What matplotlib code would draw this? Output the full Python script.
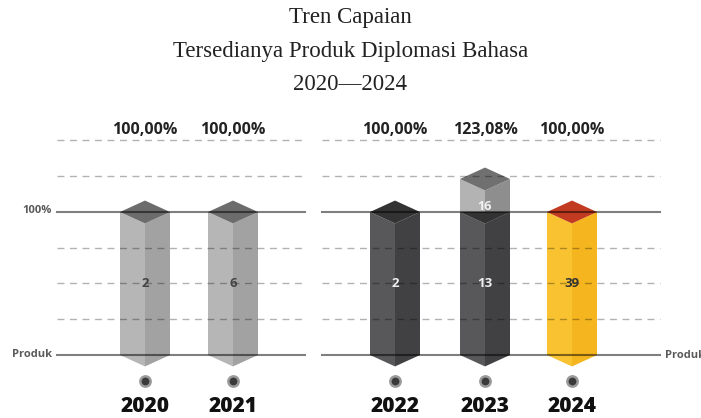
import matplotlib
matplotlib.use("Agg")
import matplotlib.pyplot as plt
from matplotlib.patches import Polygon

# data
years = ["2020", "2021", "2022", "2023", "2024"]
capaian = [100.0, 100.0, 100.0, 123.08, 100.0]      # persen capaian
target = [2, 6, 2, 13, 39]                           # jumlah produk (target)
realisasi_lebih = [None, None, None, 16, None]       # produk di atas target
pct_labels = ["100,00%", "100,00%", "100,00%", "123,08%", "100,00%"]
grid_levels = [25, 50, 75, 125, 150]

# layout / style
xpos = [145, 233, 395, 485, 572]
half_w = 25
depth = 8
face_colors = [
    ("#b6b6b6", "#a2a2a2", "#6c6c6c"),
    ("#b6b6b6", "#a2a2a2", "#6c6c6c"),
    ("#58585b", "#414143", "#333333"),
    ("#58585b", "#414143", "#333333"),
    ("#f9c230", "#f4b51e", "#c23b20"),
]
upper_colors = ("#b3b3b3", "#8e8e8e", "#707070")
label_colors = ["#444444", "#444444", "#eeeeee", "#eeeeee", "#333333"]


def prism(ax, xc, y0, y1, cols, top=True, z=3):
    left, right, topc = cols
    ax.add_patch(Polygon([(xc - half_w, y0), (xc - half_w, y1), (xc, y1 - depth), (xc, y0 - depth)],
                         closed=True, fc=left, ec="none", zorder=z))
    ax.add_patch(Polygon([(xc, y0 - depth), (xc, y1 - depth), (xc + half_w, y1), (xc + half_w, y0)],
                         closed=True, fc=right, ec="none", zorder=z))
    if top:
        ax.add_patch(Polygon([(xc - half_w, y1), (xc, y1 + depth), (xc + half_w, y1), (xc, y1 - depth)],
                             closed=True, fc=topc, ec="none", zorder=z))


fig = plt.figure(figsize=(7.01, 4.18), dpi=100)
ax = fig.add_axes([0, 0, 1, 1])
ax.set_xlim(0, 701)
ax.set_ylim(-44.06, 248.25)
ax.axis("off")

sans = ["Open Sans", "DejaVu Sans"]

# title
title_lines = ["Tren Capaian", "Tersedianya Produk Diplomasi Bahasa", "2020\u20142024"]
for k, line in enumerate(title_lines):
    fig.text(0.5, 1 - (18 + 33 * k) / 418, line, ha="center", va="center",
             fontsize=16.5, family="Liberation Serif", color="#222222")

# bars
for i, x in enumerate(xpos):
    top = min(capaian[i], 100)
    prism(ax, x, 0, top, face_colors[i])
    if capaian[i] > 100:
        prism(ax, x, 100, capaian[i], upper_colors, z=4)
        # front half of the 100% cap stays visible
        ax.add_patch(Polygon([(x - half_w, 100), (x + half_w, 100), (x, 100 - depth)],
                             closed=True, fc=face_colors[i][2], ec="none", zorder=5))
    ax.text(x, 50, str(target[i]), ha="center", va="center", fontsize=9.5,
            fontweight="bold", family=sans, color=label_colors[i], zorder=8)
    if realisasi_lebih[i] is not None:
        ax.text(x, 104, str(realisasi_lebih[i]), ha="center", va="center", fontsize=9,
                fontweight="bold", family=sans, color="#f2f2f2", zorder=8)
    ax.text(x, 157.5, pct_labels[i], ha="center", va="center", fontsize=11.5,
            fontweight="bold", family=sans, color="#222222")
    ax.scatter([x], [-18.5], s=55, facecolor="#3a3a3a", edgecolor="#9a9a9a",
               linewidth=1.8, zorder=6)
    ax.text(x, -39.6, years[i], ha="center", va="baseline", fontsize=15,
            fontweight="heavy", family=sans, color="#111111")

# grid lines (two panels), drawn on top like the infographic
panels = [(57, 305), (322, 660)]
for x0, x1 in panels:
    for lv in grid_levels:
        ax.plot([x0, x1], [lv, lv], color="black", alpha=0.3, lw=1,
                dashes=(5, 4), zorder=7)
    for lv in [0, 100]:
        ax.plot([x0, x1], [lv, lv], color="black", alpha=0.5, lw=1.5, zorder=7)

ax.text(52, 101, "100%", ha="right", va="center", fontsize=8, fontweight="bold",
        family=sans, color="#5a5a5a")
ax.text(52, 0, "Produk", ha="right", va="center", fontsize=8, fontweight="bold",
        family=sans, color="#5a5a5a")
ax.text(665, -0.5, "Produk", ha="left", va="center", fontsize=8, fontweight="bold",
        family=sans, color="#5a5a5a")

fig.savefig("out.png", dpi=100)
